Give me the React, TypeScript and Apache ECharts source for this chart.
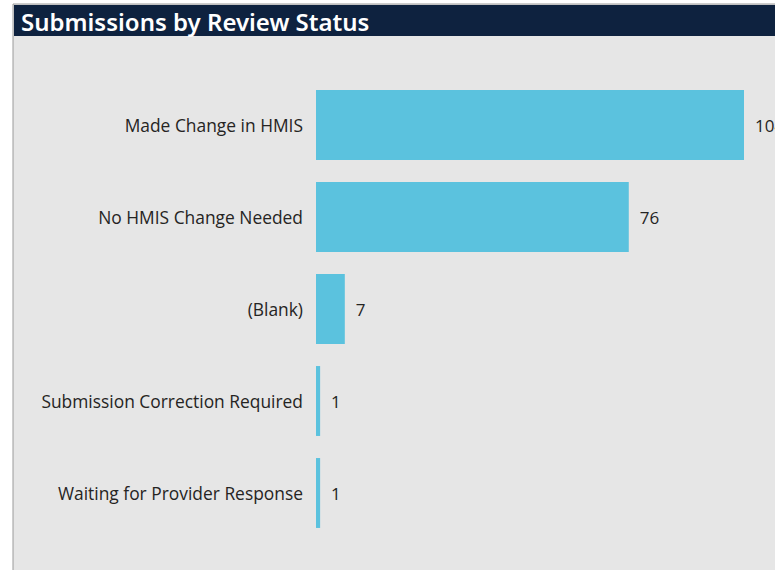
import React, { useEffect, useRef } from "react";
import * as echarts from "echarts";

const categories = [
  "Made Change in HMIS",
  "No HMIS Change Needed",
  "(Blank)",
  "Submission Correction Required",
  "Waiting for Provider Response",
];
const values = [104, 76, 7, 1, 1];
const titleText = "Submissions by Review Status";

export default function App() {
  const ref = useRef<HTMLDivElement>(null);
  useEffect(() => {
    if (!ref.current) return;
    const chart = echarts.init(ref.current, null, { renderer: "svg" });
    chart.setOption({
      animation: false,
      backgroundColor: "#ffffff",
      graphic: [
        { type: "rect", shape: { x: 13, y: 4, width: 763, height: 567 }, style: { fill: "#e6e6e6", stroke: "#9a9a9a", lineWidth: 1 }, silent: true, z: -10 },
        { type: "rect", shape: { x: 14, y: 5, width: 761, height: 31 }, style: { fill: "#0e223f" }, silent: true, z: -9 },
        {
          type: "text",
          x: 21,
          y: 21,
          style: {
            text: titleText,
            fill: "#ffffff",
            font: "600 24px 'Noto Sans', sans-serif",
            verticalAlign: "middle",
          },
          silent: true,
        },
      ],
      grid: { left: 316, right: 31, top: 79, height: 460, containLabel: false },
      xAxis: {
        type: "value",
        min: 0,
        max: 104,
        show: false,
      },
      yAxis: {
        type: "category",
        data: categories,
        inverse: true,
        axisLine: { show: false },
        axisTick: { show: false },
        axisLabel: {
          margin: 13,
          color: "#252423",
          fontSize: 17.4,
          fontFamily: "'Open Sans', sans-serif",
        },
      },
      series: [
        {
          type: "bar",
          data: values,
          barCategoryGap: "24%",
          itemStyle: { color: "#5bc2de" },
          label: {
            show: true,
            position: "right",
            distance: 11,
            color: "#252423",
            fontSize: 17,
            fontFamily: "'Open Sans', sans-serif",
          },
        },
      ],
    });
    return () => chart.dispose();
  }, []);
  return (
    <div
      ref={ref}
      style={{ position: "fixed", left: 0, top: 0, width: 775, height: 570, overflow: "hidden" }}
    />
  );
}
